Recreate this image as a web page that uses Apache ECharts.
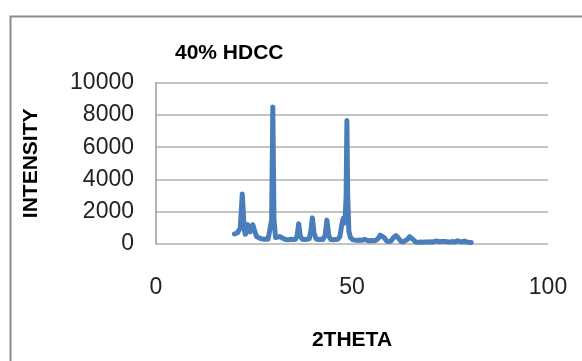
<!DOCTYPE html>
<html><head><meta charset="utf-8">
<script src="https://cdn.jsdelivr.net/npm/echarts@6/dist/echarts.min.js"></script>
<style>html,body{margin:0;padding:0;background:#fff}#c{width:582px;height:361px}</style>
</head><body><div id="c"></div>
<script>
var chartTitle = "40% HDCC";
var xTitle = "2THETA";
var yTitle = "INTENSITY";
var twoTheta = [20.0,20.4,20.8,21.2,21.5,21.8,22.0,22.2,22.5,22.8,23.1,23.4,23.7,24.0,24.3,24.7,25.0,25.3,25.7,26.2,26.8,27.4,28.0,28.6,29.1,29.5,29.8,30.1,30.5,31.0,31.5,32.0,32.6,33.2,33.8,34.4,35.0,35.6,36.0,36.4,36.8,37.3,37.9,38.5,39.1,39.5,39.9,40.3,40.8,41.4,42.0,42.6,43.1,43.6,44.1,44.6,45.2,45.8,46.4,46.9,47.4,47.8,48.2,48.5,48.7,48.9,49.2,49.6,50.2,50.8,51.4,52.0,52.6,53.2,53.7,54.3,54.9,55.5,56.1,56.7,57.2,57.7,58.2,58.8,59.4,60.0,60.6,61.2,61.8,62.4,63.0,63.6,64.2,64.7,65.2,65.7,66.3,66.9,67.5,68.1,68.7,69.3,69.9,70.5,71.1,71.7,72.3,72.9,73.4,73.9,74.5,75.1,75.7,76.3,76.9,77.5,78.1,78.7,79.3,79.9,80.4];
var intensity = [620,650,700,760,1000,2200,3100,2300,900,600,900,1200,1050,750,1000,1200,1150,700,450,380,330,300,310,300,350,1500,8500,1500,400,380,460,420,320,280,260,300,280,300,500,1260,500,300,280,300,320,800,1620,700,320,280,300,280,500,1480,500,280,260,280,300,450,1200,1600,1300,3000,7650,3000,800,400,260,240,220,250,230,290,220,200,220,200,230,350,550,640,400,190,150,200,400,520,380,180,130,200,300,460,430,250,120,100,120,110,130,120,140,110,160,180,140,150,240,160,120,130,150,120,200,150,130,180,120,100,90];
var xTicks = [0, 50, 100];
var yTicks = [0, 2000, 4000, 6000, 8000, 10000];

var data = twoTheta.map(function (t, i) { return [t, intensity[i]]; });
var chart = echarts.init(document.getElementById('c'));
chart.setOption({
  animation: false,
  backgroundColor: '#fff',
  graphic: [{
    type: 'rect', left: 8, top: 14, z: 100, silent: true,
    shape: { x: 0, y: 0, width: 620, height: 400 },
    style: { fill: 'none', stroke: '#8a8a8a', lineWidth: 2 }
  }],
  title: {
    text: chartTitle, left: 170, top: 38,
    textStyle: { fontFamily: 'Liberation Sans', fontWeight: 'bold', fontSize: 21, color: '#000' }
  },
  grid: { left: 156, right: 34, top: 82.7, bottom: 117, containLabel: false },
  xAxis: {
    type: 'value', min: xTicks[0], max: xTicks[xTicks.length - 1], interval: 50,
    name: xTitle, nameLocation: 'middle', nameGap: 86,
    nameTextStyle: { fontFamily: 'Liberation Sans', fontWeight: 'bold', fontSize: 21, color: '#000' },
    axisLine: { show: false }, axisTick: { show: false }, splitLine: { show: false },
    axisLabel: { margin: 32, fontFamily: 'Liberation Sans', fontSize: 23, color: '#222',
      formatter: function (v) { return String(v); } }
  },
  yAxis: {
    type: 'value', min: yTicks[0], max: yTicks[yTicks.length - 1], interval: 2000,
    name: yTitle, nameLocation: 'middle', nameGap: 114,
    nameTextStyle: { fontFamily: 'Liberation Sans', fontWeight: 'bold', fontSize: 21, color: '#000' },
    axisLine: { show: true, lineStyle: { color: '#9a9a9a', width: 1.5 } },
    axisTick: { show: false },
    splitLine: { show: true, lineStyle: { color: '#b0b0b0', width: 1.5 } },
    axisLabel: { margin: 22, fontFamily: 'Liberation Sans', fontSize: 23, color: '#222',
      formatter: function (v) { return String(v); } }
  },
  series: [{
    type: 'line', data: data, showSymbol: false, smooth: false,
    lineStyle: { color: '#4a7ebb', width: 5, join: 'round', cap: 'round' }
  }]
});
</script></body></html>
